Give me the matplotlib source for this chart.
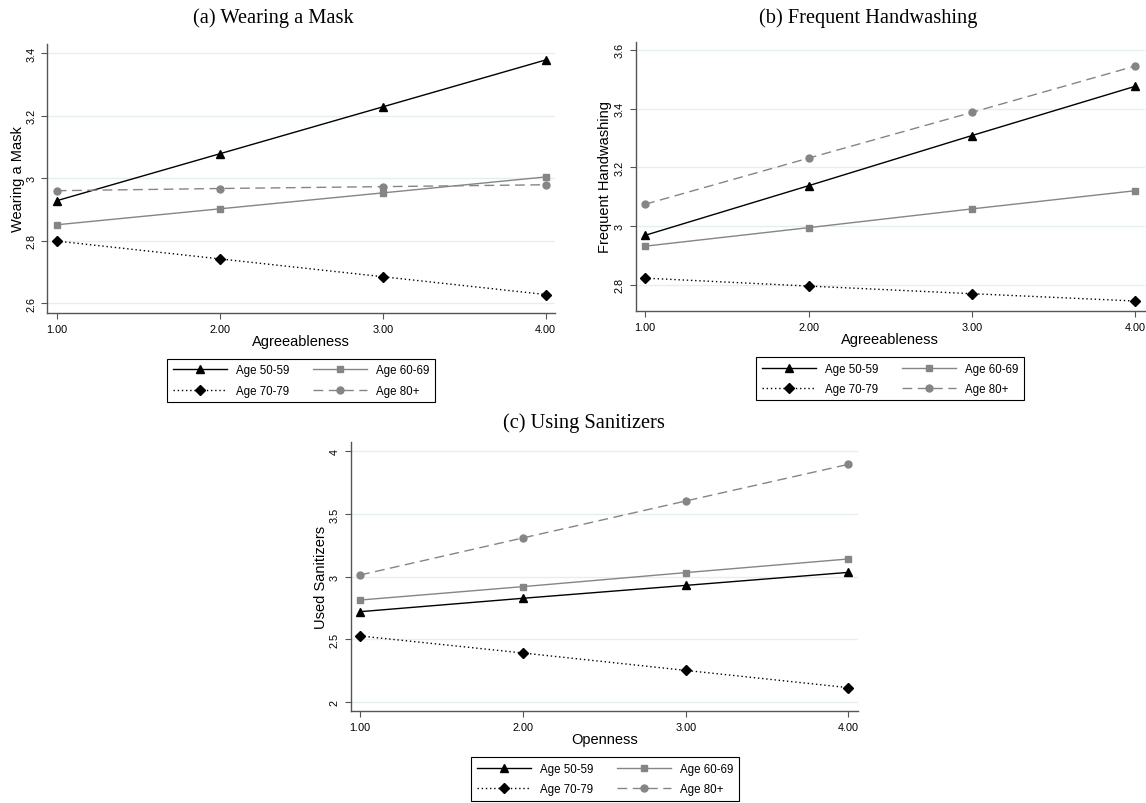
import matplotlib
matplotlib.use("Agg")
import matplotlib.pyplot as plt

# x values (trait score) shared by all panels
x = [1, 2, 3, 4]
xticklabels = ["1.00", "2.00", "3.00", "4.00"]

# (a) wearing a mask
mask_50 = [2.928, 3.078, 3.228, 3.378]
mask_60 = [2.851, 2.902, 2.953, 3.004]
mask_70 = [2.799, 2.742, 2.685, 2.628]
mask_80 = [2.960, 2.967, 2.973, 2.979]

# (b) frequent handwashing
hand_50 = [2.968, 3.137, 3.308, 3.476]
hand_60 = [2.931, 2.994, 3.058, 3.120]
hand_70 = [2.822, 2.795, 2.769, 2.744]
hand_80 = [3.074, 3.231, 3.387, 3.545]

# (c) using sanitizers
san_50 = [2.719, 2.826, 2.929, 3.033]
san_60 = [2.812, 2.919, 3.031, 3.140]
san_70 = [2.525, 2.389, 2.250, 2.112]
san_80 = [3.012, 3.308, 3.603, 3.896]

age_labels = ["Age 50-59", "Age 60-69", "Age 70-79", "Age 80+"]

plt.rcParams["font.family"] = ["Liberation Sans", "DejaVu Sans"]

W, H = 1146, 804
fig = plt.figure(figsize=(W / 100, H / 100), dpi=100)
fig.patch.set_facecolor("white")

spine_c = "#555555"
grid_c = "#e6eef1"
gray = "#858585"

styles = [
    dict(color="black", ls="-", marker="^", ms=5.5),
    dict(color=gray, ls="-", marker="s", ms=5),
    dict(color="black", ls=(0, (1, 2)), marker="D", ms=5),
    dict(color=gray, ls=(0, (7, 4)), marker="o", ms=5),
]


def px_rect(l, r, t, b):
    return [l / W, 1 - b / H, (r - l) / W, (b - t) / H]


def panel(rect, series, ylim, yticks, yticklabels, ylabel, xlabel, title, title_xy,
          leg_xy, ylab_x):
    ax = fig.add_axes(px_rect(*rect))
    for ys, lab, st in zip(series, age_labels, styles):
        ax.plot(x, ys, color=st["color"], linestyle=st["ls"], marker=st["marker"],
                markersize=st["ms"], linewidth=1.0, label=lab)
    ax.set_xlim(0.942, 4.057)
    ax.set_ylim(*ylim)
    ax.set_xticks(x)
    ax.set_xticklabels(xticklabels, fontsize=7.8)
    ax.set_yticks(yticks)
    ax.set_yticklabels(yticklabels, fontsize=7.8, rotation=90, va="center")
    ax.yaxis.grid(True, color=grid_c, linewidth=1.0)
    ax.set_axisbelow(True)
    for s in ["top", "right"]:
        ax.spines[s].set_visible(False)
    for s in ["left", "bottom"]:
        ax.spines[s].set_color(spine_c)
        ax.spines[s].set_linewidth(1.0)
    ax.tick_params(direction="out", length=4, width=0.8, color=spine_c, pad=4)
    ax.set_xlabel(xlabel, fontsize=10.5, va="center")
    ax.xaxis.set_label_coords(0.5, -0.105)
    ax.set_ylabel(ylabel, fontsize=10.5, va="center")
    ax.yaxis.set_label_coords(ylab_x, 0.5)

    fig.text(title_xy[0] / W, 1 - title_xy[1] / H, title, ha="center", va="center",
             fontsize=14.7, family=["Liberation Serif", "DejaVu Serif"])

    h, l = ax.get_legend_handles_labels()
    order = [0, 2, 1, 3]
    leg = fig.legend([h[i] for i in order], [l[i] for i in order], ncol=2,
                     loc="center", bbox_to_anchor=(leg_xy[0] / W, 1 - leg_xy[1] / H),
                     fontsize=8.3, handlelength=4.7, handletextpad=0.8,
                     columnspacing=2.0, labelspacing=0.7, borderpad=0.5,
                     fancybox=False, framealpha=1)
    leg.get_frame().set_edgecolor("black")
    leg.get_frame().set_linewidth(0.8)
    return ax


panel((47.3, 555, 45, 314), [mask_50, mask_60, mask_70, mask_80],
      (2.569, 3.429), [2.6, 2.8, 3.0, 3.2, 3.4], ["2.6", "2.8", "3", "3.2", "3.4"],
      "Wearing a Mask", "Agreeableness", "(a) Wearing a Mask", (273, 18.5),
      (301, 381.5), -0.0577)

panel((635.7, 1144.5, 42.7, 311.7), [hand_50, hand_60, hand_70, hand_80],
      (2.711, 3.628), [2.8, 3.0, 3.2, 3.4, 3.6], ["2.8", "3", "3.2", "3.4", "3.6"],
      "Frequent Handwashing", "Agreeableness", "(b) Frequent Handwashing", (868, 18.5),
      (890, 379.7), -0.0603)

panel((350.7, 857.7, 443.3, 711.7), [san_50, san_60, san_70, san_80],
      (1.928, 4.072), [2, 2.5, 3, 3.5, 4], ["2", "2.5", "3", "3.5", "4"],
      "Used Sanitizers", "Openness", "(c) Using Sanitizers", (584, 423),
      (605, 780), -0.0592)

fig.savefig("out.png", dpi=100, facecolor="white")
